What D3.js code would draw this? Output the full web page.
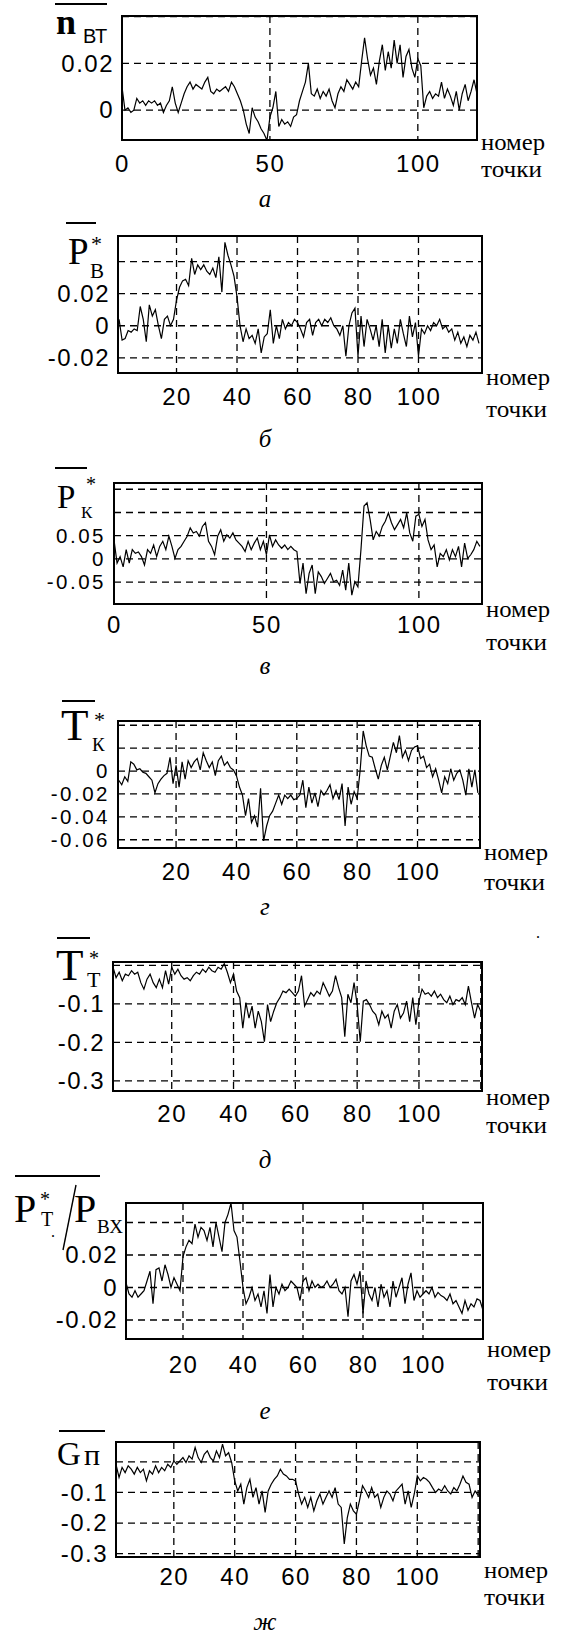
<!DOCTYPE html>
<html>
<head>
<meta charset="utf-8">
<script src="https://cdn.jsdelivr.net/npm/d3@7"></script>
<style>
  body { margin: 0; background: #fff; }
</style>
</head>
<body>
<div id="container"></div>
<script>
/* DATA */

// а: n_ВТ, points 0..120
const nVT = [0.010,0.000,0.001,-0.001,0.000,0.005,0.003,0.004,0.002,0.004,
  0.003,0.004,0.002,0.003,-0.001,0.002,0.004,0.010,0.003,-0.001,
  0.003,0.007,0.010,0.012,0.009,0.011,0.010,0.009,0.012,0.014,
  0.008,0.007,0.009,0.008,0.009,0.010,0.008,0.012,0.010,0.007,
  0.004,0.000,-0.006,-0.010,0.001,-0.003,-0.005,-0.008,-0.010,-0.013,
  -0.003,0.001,0.008,-0.007,-0.004,-0.006,-0.005,-0.007,-0.003,-0.002,
  0.004,0.008,0.012,0.020,0.007,0.006,0.009,0.005,0.008,0.006,
  0.009,0.004,0.001,0.007,0.010,0.008,0.013,0.011,0.009,0.012,
  0.010,0.021,0.031,0.022,0.015,0.018,0.011,0.021,0.028,0.017,
  0.025,0.018,0.030,0.020,0.028,0.014,0.023,0.026,0.018,0.014,
  0.022,0.019,0.001,0.006,0.008,0.005,0.007,0.006,0.012,0.005,
  0.009,0.006,0.002,0.008,0.000,0.007,0.011,0.004,0.008,0.013,
  0.007]

// б: P*_В, points 1..120
const pB = [0.004,-0.009,-0.008,-0.003,-0.004,-0.002,-0.003,0.012,0.004,-0.010,
  0.013,0.006,0.010,0.000,-0.008,0.004,0.006,0.000,0.004,0.016,
  0.024,0.028,0.029,0.025,0.042,0.032,0.038,0.035,0.038,0.034,
  0.032,0.036,0.030,0.043,0.021,0.052,0.044,0.038,0.031,0.018,
  0.000,-0.010,-0.002,-0.008,-0.006,-0.011,-0.002,-0.017,-0.007,-0.005,
  0.010,-0.011,0.000,-0.008,0.004,-0.002,0.002,0.000,0.004,0.002,
  -0.002,-0.007,0.002,0.004,-0.006,0.002,0.004,0.000,0.004,0.002,
  0.005,0.000,-0.002,-0.006,0.000,-0.019,0.000,0.008,0.011,-0.019,
  0.006,-0.013,0.004,-0.002,-0.009,0.000,-0.013,0.004,-0.017,0.000,
  -0.014,-0.002,-0.011,0.004,-0.005,-0.013,0.006,-0.007,0.002,-0.019,
  -0.002,-0.005,0.000,-0.003,0.002,0.000,0.004,-0.002,0.000,-0.004,
  -0.002,-0.009,-0.004,-0.011,-0.007,-0.013,-0.006,-0.009,-0.004,-0.011]

// в: P*_К, points 0..120
const pK = [0.041,-0.009,0.005,-0.017,0.020,-0.009,0.020,0.012,0.015,0.005,
  -0.013,0.020,0.012,0.030,0.005,0.027,0.038,0.020,0.049,0.027,
  0.001,0.020,0.027,0.038,0.049,0.067,0.056,0.059,0.049,0.070,
  0.078,0.038,0.027,0.009,0.049,0.063,0.038,0.052,0.045,0.056,
  0.041,0.034,0.027,0.016,0.038,0.020,0.034,0.045,0.020,0.038,
  0.009,0.052,0.027,0.041,0.030,0.023,0.030,0.020,0.027,0.020,
  0.016,-0.053,-0.009,-0.075,-0.031,-0.013,-0.075,-0.028,-0.038,-0.053,
  -0.042,-0.031,-0.049,-0.046,-0.057,-0.024,-0.067,-0.009,-0.078,-0.049,
  -0.060,0.020,0.114,0.121,0.085,0.041,0.059,0.049,0.070,0.081,
  0.099,0.078,0.063,0.074,0.085,0.067,0.099,0.056,0.038,0.092,
  0.096,0.070,0.085,0.041,0.020,0.030,-0.017,0.012,0.005,0.020,
  -0.002,0.020,0.005,0.027,-0.017,0.034,0.001,0.009,0.020,0.038,
  0.027]

// г: T*_К, points 1..120
const tK = [-0.008,-0.012,-0.005,-0.009,0.008,0.006,0.001,0.002,-0.001,-0.002,
  -0.005,-0.008,-0.019,-0.011,-0.007,-0.004,-0.002,0.012,-0.011,0.005,
  -0.014,0.008,-0.007,0.009,0.003,0.008,0.011,0.001,0.016,0.009,
  0.003,0.008,-0.004,0.009,0.013,0.005,0.008,0.003,0.001,-0.004,
  -0.014,-0.021,-0.039,-0.024,-0.045,-0.039,-0.049,-0.015,-0.061,-0.048,
  -0.039,-0.035,-0.028,-0.021,-0.029,-0.021,-0.024,-0.021,-0.025,-0.024,
  -0.021,-0.008,-0.032,-0.014,-0.028,-0.019,-0.031,-0.017,-0.021,-0.017,
  -0.012,-0.024,-0.017,-0.025,-0.011,-0.048,-0.014,-0.029,-0.018,-0.024,
  0.001,0.035,0.022,0.013,0.012,0.002,-0.007,0.005,0.012,0.001,
  0.013,0.025,0.016,0.031,0.012,0.018,0.009,0.018,0.021,0.022,
  0.011,0.013,0.003,0.006,-0.005,0.002,-0.008,-0.019,-0.005,-0.011,
  0.002,-0.008,-0.002,0.001,-0.008,-0.021,0.002,-0.014,0.001,-0.019]

// д: T*_Т, points 1..120
const tT = [-0.005,-0.032,-0.018,-0.040,-0.023,-0.027,-0.014,-0.023,-0.018,-0.045,
  -0.062,-0.036,-0.023,-0.045,-0.058,-0.036,-0.058,-0.014,-0.049,-0.005,
  -0.023,-0.010,-0.027,-0.036,-0.032,-0.040,-0.027,-0.018,-0.023,-0.010,
  -0.018,-0.005,-0.014,-0.018,-0.005,-0.010,0.004,-0.018,-0.045,-0.023,
  -0.067,-0.084,-0.163,-0.097,-0.137,-0.106,-0.163,-0.119,-0.146,-0.198,
  -0.102,-0.146,-0.119,-0.097,-0.084,-0.067,-0.071,-0.062,-0.071,-0.080,
  -0.067,-0.027,-0.106,-0.089,-0.071,-0.080,-0.067,-0.075,-0.045,-0.062,
  -0.080,-0.067,-0.027,-0.058,-0.084,-0.185,-0.075,-0.097,-0.045,-0.102,
  -0.198,-0.093,-0.089,-0.102,-0.119,-0.128,-0.154,-0.119,-0.137,-0.128,
  -0.163,-0.119,-0.102,-0.137,-0.124,-0.093,-0.146,-0.084,-0.154,-0.093,
  -0.062,-0.075,-0.071,-0.080,-0.067,-0.084,-0.075,-0.089,-0.097,-0.080,
  -0.102,-0.089,-0.093,-0.084,-0.102,-0.054,-0.097,-0.137,-0.102,-0.119]

// е: P*_Т / P_ВХ, points 1..120
const pTpBX = [0.003,-0.004,-0.006,-0.002,-0.006,-0.004,-0.002,0.004,0.010,-0.010,
  0.011,0.012,0.004,0.014,0.008,0.000,0.006,0.002,-0.002,0.019,
  0.025,0.029,0.027,0.039,0.031,0.037,0.035,0.029,0.037,0.025,
  0.040,0.031,0.022,0.040,0.045,0.052,0.035,0.031,0.016,0.000,
  -0.010,-0.006,0.000,-0.008,-0.004,-0.012,-0.002,-0.016,0.008,-0.012,
  0.000,-0.004,0.002,-0.002,0.000,0.004,0.002,0.000,-0.008,0.004,
  0.006,-0.002,0.004,0.000,0.002,0.000,0.001,0.004,0.000,0.002,
  0.005,-0.002,-0.004,0.000,-0.018,0.004,0.008,0.002,0.010,-0.016,
  0.004,-0.004,-0.008,0.000,-0.012,0.002,-0.006,-0.002,-0.012,0.004,
  -0.006,0.000,0.006,-0.010,0.002,0.009,-0.008,-0.002,-0.006,-0.004,
  -0.002,-0.004,0.000,-0.006,-0.003,-0.005,-0.006,-0.008,-0.004,-0.010,
  -0.008,-0.012,-0.016,-0.008,-0.014,-0.010,-0.012,-0.007,-0.008,-0.014]

// ж: G_п, points 1..120
const gP = [-0.008,-0.051,-0.018,-0.035,-0.013,-0.024,-0.040,-0.018,-0.035,-0.024,
  -0.062,-0.029,-0.040,-0.013,-0.035,-0.018,-0.029,-0.008,-0.018,0.003,
  -0.008,0.003,0.014,-0.002,0.020,0.009,0.047,0.014,-0.002,0.025,
  0.036,0.014,0.003,0.036,0.014,0.058,0.020,0.030,-0.002,-0.062,
  -0.095,-0.073,-0.138,-0.084,-0.057,-0.116,-0.084,-0.138,-0.095,-0.165,
  -0.095,-0.073,-0.057,-0.046,-0.024,-0.040,-0.046,-0.057,-0.057,-0.062,
  -0.105,-0.138,-0.116,-0.149,-0.116,-0.160,-0.127,-0.105,-0.138,-0.116,
  -0.095,-0.116,-0.084,-0.138,-0.149,-0.268,-0.182,-0.138,-0.160,-0.171,
  -0.127,-0.078,-0.095,-0.116,-0.084,-0.116,-0.105,-0.149,-0.116,-0.095,
  -0.105,-0.127,-0.095,-0.084,-0.073,-0.138,-0.095,-0.149,-0.105,-0.046,
  -0.062,-0.051,-0.057,-0.067,-0.084,-0.100,-0.089,-0.095,-0.078,-0.095,
  -0.105,-0.084,-0.095,-0.073,-0.046,-0.067,-0.073,-0.116,-0.095,-0.110]

// tick labels
const xTicks50 = [0, 50, 100]
const xTicks20 = [20, 40, 60, 80, 100]
const yLabA = [0, 0.02], yGridA = [0, 0.02, 0.04]
const yLabB = [-0.02, 0, 0.02], yGridB = [-0.02, 0, 0.02, 0.04]
const yLabV = [-0.05, 0, 0.05], yGridV = [-0.05, 0, 0.05, 0.1, 0.15]
const yLabG = [-0.06, -0.04, -0.02, 0], yGridG = [-0.06, -0.04, -0.02, 0, 0.02, 0.04]
const yLabD = [-0.3, -0.2, -0.1], yGridD = [-0.3, -0.2, -0.1, 0]
const yLabE = [-0.02, 0, 0.02], yGridE = [-0.02, 0, 0.02, 0.04]
const yLabZh = [-0.3, -0.2, -0.1], yGridZh = [-0.3, -0.2, -0.1, 0]
const captions = ["а", "б", "в", "г", "д", "е", "ж"]

/* CONSTANTS */
const width = 578, height = 1640
const sans = "'Liberation Sans', Arial, sans-serif"
const serif = "'Liberation Serif', 'Times New Roman', serif"

// box = [left, top, right, bottom]; yFont smaller where the y ticks sit close
const panels = [
  { data: nVT, x0: 0, box: [122, 16, 477, 140], xDom: [0, 120], yDom: [-0.0128, 0.0403],
    xLab: xTicks50, xGrid: [50, 100], yLab: yLabA, yGrid: yGridA, yFont: 24, labY: 172, nomY: 150, tochY: 177, capY: 207 },
  { data: pB, x0: 1, box: [118, 236, 482, 373], xDom: [0.65, 121], yDom: [-0.0295, 0.056],
    xLab: xTicks20, xGrid: xTicks20, yLab: yLabB, yGrid: yGridB, yFont: 24, labY: 405, nomY: 385, tochY: 417, capY: 447 },
  { data: pK, x0: 0, box: [114, 483, 482, 604], xDom: [0, 120.7], yDom: [-0.097, 0.1635],
    xLab: xTicks50, xGrid: [50, 100], yLab: yLabV, yGrid: yGridV, yFont: 20.5, labY: 633, nomY: 617, tochY: 650, capY: 674 },
  { data: tK, x0: 1, box: [118, 721, 480, 848], xDom: [0.76, 120.7], yDom: [-0.0672, 0.0437],
    xLab: xTicks20, xGrid: xTicks20, yLab: yLabG, yGrid: yGridG, yFont: 20.5, labY: 880, nomY: 860, tochY: 890, capY: 915 },
  { data: tT, x0: 1, box: [113, 962, 482, 1091], xDom: [1, 120.4], yDom: [-0.326, 0.0085],
    xLab: xTicks20, xGrid: [20, 40, 60, 80, 100, 120], yLab: yLabD, yGrid: yGridD, yFont: 24, labY: 1122, nomY: 1105, tochY: 1133, capY: 1168 },
  { data: pTpBX, x0: 1, box: [126, 1203, 483, 1339], xDom: [1, 120], yDom: [-0.0317, 0.052],
    xLab: xTicks20, xGrid: xTicks20, yLab: yLabE, yGrid: yGridE, yFont: 24, labY: 1373, nomY: 1357, tochY: 1390, capY: 1419 },
  { data: gP, x0: 1, box: [116, 1442, 480, 1557], xDom: [1, 120.6], yDom: [-0.311, 0.065],
    xLab: xTicks20, xGrid: [20, 40, 60, 80, 100, 120], yLab: yLabZh, yGrid: yGridZh, yFont: 24, labY: 1585, nomY: 1578, tochY: 1605, capY: 1630 }
]

/* SVG */
const svg = d3.select("#container")
  .append("svg")
  .attr("width", width)
  .attr("height", height)
  .style("background", "#fff")

panels.forEach((p, k) => {
  const [L, T, R, B] = p.box

  const xScale = d3.scaleLinear().domain(p.xDom).range([L, R])
  const yScale = d3.scaleLinear().domain(p.yDom).range([B, T])

  const g = svg.append("g")

  g.append("clipPath").attr("id", "clip" + k)
    .append("rect").attr("x", L).attr("y", T).attr("width", R - L).attr("height", B - T)

  // dashed grid
  g.selectAll(".hgrid")
    .data(p.yGrid)
    .join("line")
    .attr("x1", L).attr("x2", R)
    .attr("y1", d => yScale(d)).attr("y2", d => yScale(d))
    .attr("stroke", "#000").attr("stroke-width", 1.3)
    .attr("stroke-dasharray", "7,5")

  g.selectAll(".vgrid")
    .data(p.xGrid)
    .join("line")
    .attr("x1", d => xScale(d)).attr("x2", d => xScale(d))
    .attr("y1", T).attr("y2", B)
    .attr("stroke", "#000").attr("stroke-width", 1.3)
    .attr("stroke-dasharray", "7,5")

  // series
  const line = d3.line()
    .x((d, i) => xScale(i + p.x0))
    .y(d => yScale(d))

  g.append("path")
    .datum(p.data)
    .attr("d", line)
    .attr("clip-path", `url(#clip${k})`)
    .attr("fill", "none")
    .attr("stroke", "#000")
    .attr("stroke-width", 1.2)

  // frame
  g.append("rect")
    .attr("x", L).attr("y", T)
    .attr("width", R - L).attr("height", B - T)
    .attr("fill", "none").attr("stroke", "#000").attr("stroke-width", 2)

  // axes (labels only)
  const xAxis = d3.axisBottom(xScale).tickValues(p.xLab).tickSize(0).tickPadding(p.labY - B - 17).tickFormat(d => String(d))
  const gx = g.append("g").attr("transform", `translate(0,${B})`).call(xAxis)
  gx.select(".domain").remove()
  gx.selectAll("text").attr("font-family", sans).attr("font-size", 24).attr("letter-spacing", 1.5).attr("fill", "#000")

  const yAxis = d3.axisLeft(yScale).tickValues(p.yLab).tickSize(0).tickPadding(8).tickFormat(d => String(d))
  const gy = g.append("g").attr("transform", `translate(${L},0)`).call(yAxis)
  gy.select(".domain").remove()
  gy.selectAll("text").attr("font-family", sans).attr("font-size", p.yFont)
    .attr("letter-spacing", p.yFont < 24 ? 2.5 : 1.5).attr("fill", "#000")

  // "номер точки"
  g.append("text").attr("x", R + 4).attr("y", p.nomY)
    .attr("font-family", serif).attr("font-size", 24)
    .attr("textLength", 64).attr("lengthAdjust", "spacingAndGlyphs")
    .text("номер")
  g.append("text").attr("x", R + 4).attr("y", p.tochY)
    .attr("font-family", serif).attr("font-size", 24)
    .attr("textLength", 61).attr("lengthAdjust", "spacingAndGlyphs")
    .text("точки")

  // caption
  g.append("text").attr("x", 265).attr("y", p.capY)
    .attr("text-anchor", "middle")
    .attr("font-family", serif).attr("font-style", "italic").attr("font-size", 25)
    .text(captions[k])
})

/* AXIS TITLES */
function over(x1, x2, y) {
  svg.append("line").attr("x1", x1).attr("x2", x2).attr("y1", y).attr("y2", y)
    .attr("stroke", "#000").attr("stroke-width", 2)
}
function txt(x, y, s, size, family, extra) {
  const t = svg.append("text").attr("x", x).attr("y", y)
    .attr("font-family", family).attr("font-size", size).text(s)
  if (extra) extra(t)
  return t
}

// а
over(55, 107, 4)
txt(56, 34, "n", 36, serif, t => t.attr("font-weight", "bold"))
txt(83, 43, "ВТ", 20, sans)

// б
over(66, 96, 223)
txt(68, 264, "P", 37, serif)
txt(91, 251, "*", 22, serif)
txt(90, 278, "В", 21, serif)

// в
over(55, 87, 468)
txt(57, 508, "P", 33, serif)
txt(86, 491, "*", 20, serif)
txt(81, 518, "К", 17, serif)

// г
over(62, 95, 701)
txt(61, 740, "T", 45, serif)
txt(94, 727, "*", 22, serif)
txt(92, 751, "К", 19, serif)

// д
over(57, 90, 938)
txt(56, 980, "T", 45, serif)
txt(89, 965, "*", 20, serif)
txt(87, 987, "Т", 22, serif)
txt(536, 938, ".", 16, serif)

// е
over(15, 100, 1176)
txt(14, 1222, "P", 40, serif)
txt(40, 1206, "*", 20, serif)
txt(41, 1226, "Т", 20, serif)
txt(51, 1237, ".", 16, serif)
svg.append("line").attr("x1", 63).attr("y1", 1250).attr("x2", 76).attr("y2", 1185)
  .attr("stroke", "#000").attr("stroke-width", 1.4)
txt(74, 1222, "P", 40, serif)
txt(97, 1233, "ВХ", 19, serif)

// ж
over(59, 105, 1431)
txt(57, 1465, "G", 33, serif)
txt(84, 1465, "п", 30, serif)
</script>
</body>
</html>
